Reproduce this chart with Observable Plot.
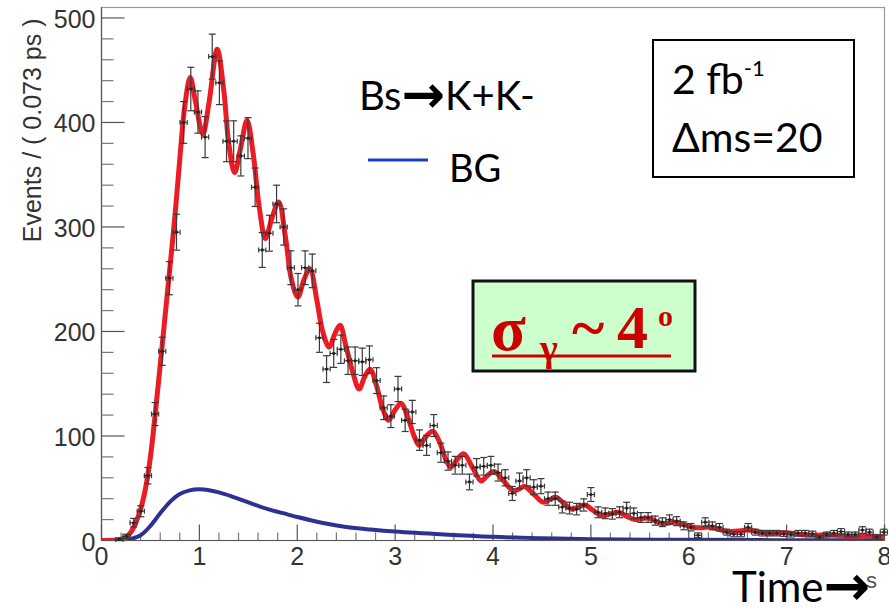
<!DOCTYPE html>
<html>
<head>
<meta charset="utf-8">
<script src="https://cdn.jsdelivr.net/npm/d3@7"></script>
<script src="https://cdn.jsdelivr.net/npm/@observablehq/plot@0.6"></script>
<style>
  html, body { margin: 0; padding: 0; background: #fff; }
  #chart { position: relative; width: 889px; height: 608px; overflow: hidden; }
</style>
</head>
<body>
<div id="chart"></div>
<script>
// ---------- data ----------
const binWidth = 0.073; // ps, from y-axis label
const binCenters = [0.1825,0.2555,0.3285,0.4015,0.4745,0.5475,0.6205,0.6935,0.7665,0.8395,0.9125,0.9855,1.0585,1.1315,1.2045,1.2775,1.3505,1.4235,1.4965,1.5695,1.6425,1.7155,1.7885,1.8615,1.9345,2.0075,2.0805,2.1535,2.2265,2.2995,2.3725,2.4455,2.5185,2.5915,2.6645,2.7375,2.8105,2.8835,2.9565,3.0295,3.1025,3.1755,3.2485,3.3215,3.3945,3.4675,3.5405,3.6135,3.6865,3.7595,3.8325,3.9055,3.9785,4.0515,4.1245,4.1975,4.2705,4.3435,4.4165,4.4895,4.5625,4.6355,4.7085,4.7815,4.8545,4.9275,5.0005,5.0735,5.1465,5.2195,5.2925,5.3655,5.4385,5.5115,5.5845,5.6575,5.7305,5.8035,5.8765,5.9495,6.0225,6.0955,6.1685,6.2415,6.3145,6.3875,6.4605,6.5335,6.6065,6.6795,6.7525,6.8255,6.8985,6.9715,7.0445,7.1175,7.1905,7.2635,7.3365,7.4095,7.4825,7.5555,7.6285,7.7015,7.7745,7.8475,7.9205,7.9935];
const binCounts = [1,4,17,28,62,121,181,251,295,400,432,410,386,463,438,382,382,368,385,338,278,294,322,300,261,240,261,258,194,164,179,183,172,172,171,173,153,127,119,145,115,123,96,91,110,84,76,72,72,56,70,71,72,65,60,45,57,60,51,52,40,40,32,31,30,34,44,27,26,25.5,27,31,26,22,22,19,17.5,20,18.5,14,12.7,5,17.5,14,12.7,8,6,6,12.7,8,7,7,7,6.4,5.7,7,7,6.4,3,5.7,7,8.5,5.7,5.7,10,8,3.5,8];

// total fit (red)
const fitT = [0,0.15,0.2,0.25,0.3,0.35,0.4,0.45,0.5,0.55,0.6,0.65,0.7,0.75,0.8,0.85,0.906,0.96,1.035,1.1,1.182,1.25,1.3,1.36,1.42,1.487,1.55,1.61,1.675,1.74,1.81,1.88,1.94,2.006,2.07,2.13,2.2,2.26,2.325,2.385,2.437,2.5,2.57,2.632,2.69,2.745,2.81,2.87,2.933,3.0,3.06,3.13,3.19,3.247,3.31,3.385,3.45,3.52,3.57,3.63,3.7,3.79,3.88,3.94,4.01,4.1,4.2,4.26,4.32,4.42,4.51,4.58,4.64,4.72,4.8,4.87,4.94,5.02,5.11,5.2,5.28,5.37,5.45,5.52,5.59,5.66,5.73,5.8,5.88,5.96,6.05,6.14,6.2,6.3,6.4,6.5,6.6,6.7,6.8,6.9,7.0,7.1,7.2,7.3,7.4,7.5,7.6,7.7,7.8,7.9,8.0];
const fitY = [0,0.5,1.2,3,8,17,30,50,80,122,168,215,262,310,365,415,443,420,389,420,470,430,380,352,375,402,370,320,289,308,324,290,250,233,250,260,230,200,185,198,206,185,160,145,157,164,148,127,115,125,131,118,101,91,99,104.6,95,77,70,77,83,70,57,62,66,58,48,49,51.7,44,36.7,39,41.5,36,30,32,34,29,24,25.5,27,23,20,20.8,21.5,18.5,16,16.8,17.5,15,12.5,12.2,13,11,8.5,9,10,8.5,7,7.2,7.5,6.2,5.2,5.0,5.4,5.0,4.3,4.2,4.5,4.0,3.6];

// background (blue)
const bgT = [0,0.2,0.3,0.4,0.5,0.6,0.7,0.8,0.9,1.0,1.1,1.2,1.35,1.5,1.7,1.9,2.0,2.25,2.5,2.75,3.0,3.5,4.0,4.5,5.0,6.0,7.0,8.0];
const bgY = [0,0.2,1.5,5,14,26,37,44.5,48,49,48,46,41.5,36.5,30,25,22.5,17,13,10.5,8.5,5.7,3.5,2.2,1.3,0.6,0.3,0.15];

// ticks and labels
const xMajor = [0,1,2,3,4,5,6,7,8];
const yMajor = [0,100,200,300,400,500];
const xMinor = d3.range(0, 8.001, 0.2).filter(v => Math.abs(v - Math.round(v)) > 1e-6);
const yMinor = d3.range(0, 511, 20).filter(v => v % 100 !== 0);
const yLabel = "Events / ( 0.073 ps )";

// ---------- derived tables ----------
const half = binWidth / 2;
const points = binCenters.map((t, i) => ({t, y: binCounts[i], e: Math.sqrt(Math.max(binCounts[i], 1))}));
const fit = fitT.map((t, i) => ({t, y: fitY[i]}));
const bg = bgT.map((t, i) => ({t, y: bgY[i]}));

const upTick = len => ({draw(ctx) { ctx.moveTo(0, 0); ctx.lineTo(0, -len); }});
const rightTick = len => ({draw(ctx) { ctx.moveTo(0, 0); ctx.lineTo(len, 0); }});
const hCap = {draw(ctx) { ctx.moveTo(-3.5, 0); ctx.lineTo(3.5, 0); }};
const vCap = {draw(ctx) { ctx.moveTo(0, -2.5); ctx.lineTo(0, 2.5); }};

const errColor = "#3a3a3a";

const plot = Plot.plot({
  width: 889,
  height: 608,
  marginLeft: 101,
  marginRight: 5,
  marginTop: 7,
  marginBottom: 68,
  style: {fontFamily: "'Liberation Sans', Arial, sans-serif", fontSize: "25px", color: "#333", background: "#fff"},
  x: {domain: [0, 8]},
  y: {domain: [0, 510]},
  marks: [
    Plot.frame({stroke: "#999", strokeWidth: 1.2}),
    Plot.ruleX([0], {stroke: "#555", strokeWidth: 1.2}),
    Plot.ruleY([0], {stroke: "#555", strokeWidth: 1.2}),
    // ticks (inward, ROOT style)
    Plot.dot(xMajor, {x: d => d, frameAnchor: "bottom", symbol: upTick(16), stroke: "#555", fill: "none", strokeWidth: 1.2}),
    Plot.dot(xMinor, {x: d => d, frameAnchor: "bottom", symbol: upTick(8), stroke: "#777", fill: "none", strokeWidth: 1.2}),
    Plot.dot(yMajor, {y: d => d, frameAnchor: "left", symbol: rightTick(23), stroke: "#555", fill: "none", strokeWidth: 1.2}),
    Plot.dot(yMinor, {y: d => d, frameAnchor: "left", symbol: rightTick(12), stroke: "#777", fill: "none", strokeWidth: 1.2}),
    Plot.axisX({ticks: xMajor, tickSize: 0, tickPadding: 7, tickFormat: d => String(d), label: null, fill: "#333"}),
    Plot.axisY({ticks: yMajor, tickSize: 0, tickPadding: 6, tickFormat: d => String(d), label: null, fill: "#333", dy: 2}),
    Plot.text([yLabel], {frameAnchor: "top-left", text: d => d, rotate: -90, textAnchor: "end", lineAnchor: "bottom", dx: -61, dy: 11, fill: "#333", fontSize: 25}),
    // curves
    Plot.line(bg, {x: "t", y: "y", curve: "catmull-rom", stroke: "#2e3192", strokeWidth: 4, clip: true}),
    Plot.line(fit, {x: "t", y: "y", curve: "catmull-rom", stroke: "#ec1c24", strokeWidth: 5, clip: true}),
    // data points with error bars
    Plot.ruleX(points, {x: "t", y1: d => d.y - d.e, y2: d => d.y + d.e, stroke: errColor, strokeWidth: 1.2}),
    Plot.ruleY(points, {y: "y", x1: d => d.t - half, x2: d => d.t + half, stroke: errColor, strokeWidth: 1.2}),
    Plot.dot(points, {x: "t", y: d => d.y + d.e, symbol: hCap, stroke: errColor, fill: "none", strokeWidth: 1.2}),
    Plot.dot(points, {x: "t", y: d => d.y - d.e, symbol: hCap, stroke: errColor, fill: "none", strokeWidth: 1.2}),
    Plot.dot(points, {x: d => d.t - half, y: "y", symbol: vCap, stroke: errColor, fill: "none", strokeWidth: 1.2}),
    Plot.dot(points, {x: d => d.t + half, y: "y", symbol: vCap, stroke: errColor, fill: "none", strokeWidth: 1.2}),
    Plot.dot(points, {x: "t", y: "y", r: 1.6, fill: "#222", stroke: "none"})
  ]
});

document.getElementById("chart").appendChild(plot);

// ---------- annotations ----------
const svg = d3.select(plot);
const ann = svg.append("g").attr("font-family", "Lato, 'Open Sans', sans-serif").attr("text-anchor", "start");

// legend
const l1 = ann.append("text").attr("x", 359).attr("y", 110).attr("font-size", 40).attr("fill", "#000");
l1.append("tspan").text("Bs");
l1.append("tspan").attr("font-family", "'DejaVu Sans'").attr("font-weight", "bold").attr("font-size", 52).attr("dy", 2).text("→");
l1.append("tspan").attr("dy", -2).text("K+K-");
ann.append("line").attr("x1", 368).attr("x2", 428).attr("y1", 160).attr("y2", 160).attr("stroke", "#1b3fc4").attr("stroke-width", 3);
ann.append("text").attr("x", 449).attr("y", 182).attr("font-size", 38).attr("fill", "#000").text("BG");

// luminosity box
ann.append("rect").attr("x", 653).attr("y", 40).attr("width", 201).attr("height", 137).attr("fill", "#fff").attr("stroke", "#000").attr("stroke-width", 2);
const b1 = ann.append("text").attr("x", 672).attr("y", 94).attr("font-size", 41).attr("fill", "#000");
b1.append("tspan").text("2 fb");
b1.append("tspan").attr("font-size", 22).attr("dy", -18).text("-1");
ann.append("text").attr("x", 672).attr("y", 152).attr("font-size", 41).attr("fill", "#000").text("Δms=20");

// sigma box
ann.append("rect").attr("x", 473).attr("y", 281).attr("width", 222).attr("height", 90).attr("fill", "#ccffcc").attr("stroke", "#111").attr("stroke-width", 3);
const sig = ann.append("g").attr("font-family", "'Liberation Serif', 'Times New Roman', serif").attr("font-weight", "bold").attr("fill", "#cc0000");
sig.append("text").attr("x", 491).attr("y", 350).attr("font-size", 64).text("σ");
sig.append("text").attr("x", 540).attr("y", 361).attr("font-size", 38).text("γ");
sig.append("text").attr("x", 572).attr("y", 348).attr("font-size", 62).text("~");
sig.append("text").attr("x", 617).attr("y", 348).attr("font-size", 62).text("4");
sig.append("text").attr("x", 658).attr("y", 326).attr("font-size", 30).text("o");
ann.append("line").attr("x1", 492).attr("x2", 671).attr("y1", 356).attr("y2", 356).attr("stroke", "#cc0000").attr("stroke-width", 3);

// x title
ann.append("text").attr("x", 866).attr("y", 588).attr("font-family", "'Liberation Sans', sans-serif").attr("font-size", 22).attr("fill", "#555").text("s");
const xt = ann.append("text").attr("x", 732).attr("y", 602).attr("font-size", 42).attr("fill", "#000");
xt.append("tspan").text("Time");
xt.append("tspan").attr("font-family", "'DejaVu Sans'").attr("font-weight", "bold").attr("font-size", 56).attr("dy", 3).text("→");
</script>
</body>
</html>
